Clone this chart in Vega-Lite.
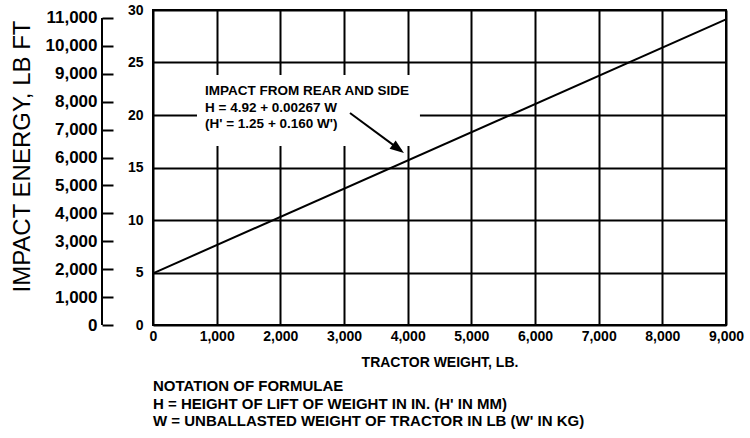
{
  "$schema": "https://vega.github.io/schema/vega-lite/v6.json",
  "width": 573,
  "height": 315,
  "autosize": {"type": "none"},
  "padding": {"left": 153, "top": 10, "right": 24, "bottom": 113},
  "background": "white",
  "config": {
    "font": "Liberation Sans",
    "view": {"stroke": "black", "strokeWidth": 2},
    "axis": {"labelColor": "black", "titleColor": "black", "labelFont": "Liberation Sans", "titleFont": "Liberation Sans"}
  },
  "title": {
    "text": ["NOTATION OF FORMULAE", "H = HEIGHT OF LIFT OF WEIGHT IN IN. (H' IN MM)", "W = UNBALLASTED WEIGHT OF TRACTOR IN LB (W' IN KG)"],
    "orient": "bottom",
    "anchor": "start",
    "frame": "group",
    "offset": 10,
    "fontSize": 15,
    "fontWeight": "bold",
    "lineHeight": 17.5,
    "color": "black",
    "font": "Liberation Sans"
  },
  "layer": [
    {
      "layer": [
        {
          "data": {"values": [{}]},
          "mark": {"type": "rect", "color": "white"},
          "encoding": {
            "x": {"datum": 691, "type": "quantitative", "scale": {"domain": [0, 9000], "nice": false, "zero": false}},
            "x2": {"datum": 4193},
            "y": {"datum": 17.05, "type": "quantitative", "scale": {"domain": [0, 30], "nice": false, "zero": false}},
            "y2": {"datum": 23.8}
          }
        },
        {
          "data": {"values": [{"weight": 0, "height": 4.92}, {"weight": 9000, "height": 29.1}]},
          "mark": {"type": "line", "color": "black", "strokeWidth": 2},
          "encoding": {
            "x": {
              "field": "weight", "type": "quantitative",
              "scale": {"domain": [0, 9000], "nice": false, "zero": false},
              "axis": {
                "orient": "bottom", "values": [0, 1000, 2000, 3000, 4000, 5000, 6000, 7000, 8000, 9000], "format": ",.0f",
                "grid": true, "gridColor": "black", "gridWidth": 2, "gridOpacity": 1,
                "ticks": false, "domain": false,
                "labelFontSize": 14, "labelFontWeight": "bold", "labelPadding": 4,
                "labelFlush": false, "labelOverlap": false, "labelBound": false,
                "title": "TRACTOR WEIGHT, LB.", "titleFontSize": 14, "titleFontWeight": "bold",
                "titleY": 37, "titleBaseline": "middle"
              }
            },
            "y": {
              "field": "height", "type": "quantitative",
              "scale": {"domain": [0, 30], "nice": false, "zero": false},
              "axis": {
                "orient": "left", "values": [0, 5, 10, 15, 20, 25, 30],
                "grid": true, "gridColor": "black", "gridWidth": 2, "gridOpacity": 1,
                "ticks": false, "domain": false,
                "labelFontSize": 14, "labelFontWeight": "bold", "labelPadding": 10,
                "labelOverlap": false, "labelBound": false, "labelFlush": false,
                "title": null
              }
            }
          }
        },
        {
          "data": {"values": [{}]},
          "mark": {"type": "text", "text": ["IMPACT FROM REAR AND SIDE", "H = 4.92 + 0.00267 W", "(H' = 1.25 + 0.160 W')"], "align": "left", "baseline": "top", "fontSize": 13.5, "fontWeight": "bold", "lineHeight": 16.5, "color": "black"},
          "encoding": {
            "x": {"datum": 817, "type": "quantitative", "scale": {"domain": [0, 9000], "nice": false, "zero": false}},
            "y": {"datum": 22.95, "type": "quantitative", "scale": {"domain": [0, 30], "nice": false, "zero": false}}
          }
        },
        {
          "data": {"values": [{}]},
          "mark": {"type": "rule", "color": "black", "strokeWidth": 2},
          "encoding": {
            "x": {"datum": 3094, "type": "quantitative", "scale": {"domain": [0, 9000], "nice": false, "zero": false}},
            "x2": {"datum": 3900},
            "y": {"datum": 20.19, "type": "quantitative", "scale": {"domain": [0, 30], "nice": false, "zero": false}},
            "y2": {"datum": 16.58}
          }
        },
        {
          "data": {"values": [{}]},
          "mark": {"type": "point", "shape": "M0,0L1.7,4.7L-1.7,4.7Z", "size": 36, "angle": 126.35, "filled": true, "color": "black", "opacity": 1, "strokeWidth": 0},
          "encoding": {
            "x": {"datum": 3942, "type": "quantitative", "scale": {"domain": [0, 9000], "nice": false, "zero": false}},
            "y": {"datum": 16.38, "type": "quantitative", "scale": {"domain": [0, 30], "nice": false, "zero": false}}
          }
        }
      ]
    },
    {
      "data": {"values": [{"low": 0, "high": 11000}]},
      "mark": {"type": "rule", "color": "black", "strokeWidth": 2},
      "encoding": {
        "x": {"datum": -801, "type": "quantitative", "scale": {"domain": [0, 9000], "nice": false, "zero": false}},
        "y": {
          "field": "low", "type": "quantitative",
          "scale": {"domain": [0, 11286.6], "nice": false, "zero": false},
          "axis": {
            "orient": "left", "offset": 51,
            "values": [0, 1000, 2000, 3000, 4000, 5000, 6000, 7000, 8000, 9000, 10000, 11000], "format": ",.0f",
            "domain": false, "grid": false,
            "ticks": true, "tickSize": -11, "tickWidth": 2, "tickColor": "black",
            "labelPadding": 16, "labelFontSize": 17, "labelFontWeight": "bold",
            "labelOverlap": false, "labelBound": false, "labelFlush": false,
            "title": "IMPACT ENERGY, LB FT", "titleFontSize": 24, "titleFontWeight": "normal",
            "titleX": -80, "titleY": 146, "titleAngle": -90, "titleAlign": "center", "titleBaseline": "middle"
          }
        },
        "y2": {"field": "high"}
      }
    }
  ],
  "resolve": {"scale": {"y": "independent"}, "axis": {"y": "independent"}}
}
